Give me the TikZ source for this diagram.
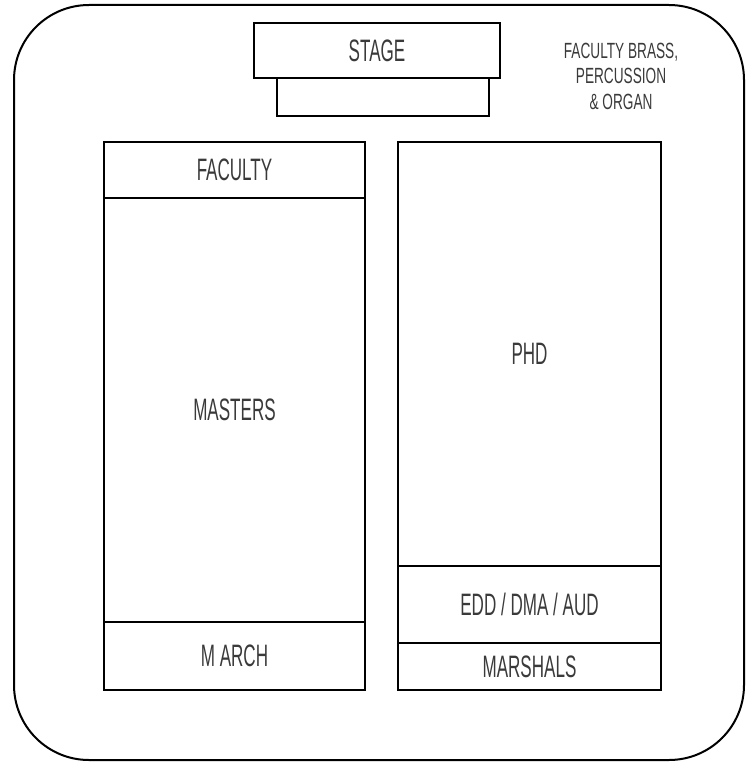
\documentclass[tikz,border=0pt]{standalone}
\usepackage{fontspec}
\setmainfont{Liberation Sans}[FakeStretch=0.55]
\newfontfamily\brassfont{Liberation Sans}[FakeStretch=0.62]
\usepackage{xcolor}
\usetikzlibrary{positioning}
\definecolor{labelgray}{HTML}{3A3A3A}
\tikzstyle{hall} = [draw=black, line width=2pt, rounded corners=75pt]
\tikzstyle{stagebox} = [draw=black, line width=2pt, rectangle, inner sep=0pt,
    outer sep=0pt, text=labelgray, font=\fontsize{31}{34}\selectfont]
\tikzstyle{section} = [draw=black, line width=1.2pt, rectangle, inner sep=0pt,
    outer sep=0pt, text=labelgray, font=\fontsize{31}{34}\selectfont]

\begin{document}
\begin{tikzpicture}[x=1pt, y=-1pt]
\useasboundingbox (0,0) rectangle (745,762);
\draw[hall] (14,5) rectangle (744,760);

% stage
\node[stagebox, minimum width=212, minimum height=39, anchor=north west] (riser) at (277,77) {};
\node[stagebox, fill=white, minimum width=246, minimum height=55, anchor=north west] (stage) at (254,23) {STAGE};
\node[text=labelgray, font=\brassfont\fontsize{22}{25.5}\selectfont, align=center] (brass) at (621,76)
    {FACULTY BRASS,\\PERCUSSION\\\& ORGAN};

% left column
\node[section, minimum width=261, minimum height=56, anchor=north west] (faculty) at (104,142) {FACULTY};
\node[section, minimum width=261, minimum height=424, below=0pt of faculty] (masters) {MASTERS};
\node[section, minimum width=261, minimum height=68, below=0pt of masters] (march) {M ARCH};

% right column
\node[section, minimum width=263, minimum height=424, anchor=north west] (phd) at (398,142) {PHD};
\node[section, minimum width=263, minimum height=77, below=0pt of phd] (edd) {EDD / DMA / AUD};
\node[section, minimum width=263, minimum height=47, below=0pt of edd] (marshals) {MARSHALS};
\end{tikzpicture}
\end{document}
